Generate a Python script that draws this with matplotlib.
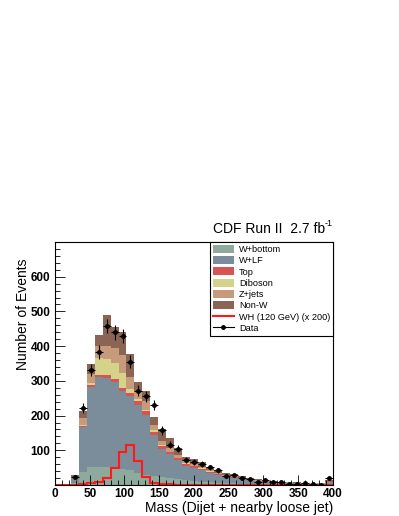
import numpy as np
import matplotlib
matplotlib.use("Agg")
import matplotlib.pyplot as plt
from matplotlib.patches import Patch
from matplotlib.lines import Line2D

plt.rcParams['font.family'] = ['Liberation Sans', 'DejaVu Sans']

# 35 bins from 0 to 400 GeV
edges = np.linspace(0, 400, 36)

# background templates (events per bin)
w_bottom = [0, 0, 5, 38, 52, 53, 53, 51, 46, 42, 35, 30, 26, 23, 19, 16, 14, 12,
            10, 9, 7, 6, 5, 4, 4, 3, 3, 2, 2, 2, 1, 1, 1, 1, 2]
w_lf = [0, 0, 15, 130, 231, 257, 254, 245, 225, 213, 195, 172, 119, 82, 69, 56, 42, 38,
        34, 27, 23, 18, 16, 13, 10, 8, 6.5, 6, 5, 4, 4.5, 4, 3, 2.5, 8]
top = [0, 0, 0.3, 3, 6, 7, 9, 8, 9, 10, 11, 10, 9, 7, 6, 5, 4, 3.5,
       3, 2.5, 2, 2, 1.5, 1.2, 1, 0.8, 0.7, 0.6, 0.5, 0.5, 0.4, 0.4, 0.3, 0.3, 0.6]
diboson = [0, 0, 0.5, 3, 6, 48, 48, 48, 42, 12, 6, 4, 3.5, 3, 2.5, 2, 2, 1.5,
           1.2, 1, 1, 0.8, 0.7, 0.6, 0.5, 0.5, 0.4, 0.4, 0.3, 0.3, 0.3, 0.2, 0.2, 0.2, 0.4]
zjets = [0, 0, 1, 20, 26, 36, 36, 43, 53, 35, 25, 25, 15, 12, 10, 8, 6, 5,
         4, 3.5, 3, 2.5, 2, 1.7, 1.5, 1.2, 1, 1, 0.8, 0.7, 0.6, 0.5, 0.5, 0.4, 1.2]
non_w = [0, 0, 6.2, 19, 27, 31, 89, 61, 66, 66, 26, 29, 22.5, 33, 28.5, 19, 12, 14,
         13.8, 10, 8, 5.7, 6.8, 4.5, 3, 2.5, 2.4, 2, 1.4, 1.5, 1.2, 0.9, 1, 0.6, 2.8]

# signal WH (120 GeV) scaled x200
wh = [0, 0, 0.5, 2, 5, 9, 21, 50, 96, 115, 70, 22, 7, 2, 1.5, 1, 1, 0.5,
      0.4, 0.3, 0.2, 0.2, 0.1, 0.1, 0, 0, 0, 0, 0, 0, 0, 0, 0, 0, 0]

data = [0, 0, 24, 221, 331, 383, 458, 440, 430, 355, 272, 255, 231, 157, 116, 104, 73, 67,
        61, 51, 42, 25, 29, 20, 17, 8, 13, 8, 8, 4, 3, 6, 3, 1, 21]

labels = ["W+bottom", "W+LF", "Top", "Diboson", "Z+jets", "Non-W"]
colors = ["#8daa9c", "#7b8d9b", "#d95450", "#d5d38a", "#c89a7c", "#8b6553"]

fig = plt.figure(figsize=(3.99, 5.16), dpi=100)
ax = fig.add_axes([55/399, 31/516, 278/399, 243/516])

base = np.zeros(len(edges) - 1)
for vals, col in zip([w_bottom, w_lf, top, diboson, zjets, non_w], colors):
    vals = np.array(vals, dtype=float)
    ax.stairs(base + vals, edges, baseline=base.copy(), fill=True, color=col, lw=0)
    base = base + vals

ax.stairs(wh, edges, color="#ff1a1a", lw=1.5, baseline=None)

centers = 0.5 * (edges[:-1] + edges[1:])
d = np.array(data, dtype=float)
mask = d > 0
ax.errorbar(centers[mask], d[mask], yerr=np.sqrt(d[mask]), xerr=(edges[1] - edges[0]) / 2,
            fmt="o", ms=2.5, color="black", lw=0.8, capsize=0)

ax.set_xlim(0, 400)
ax.set_ylim(0, 700)
ax.set_xticks(np.arange(0, 401, 50))
ax.set_xticks(np.arange(0, 401, 10), minor=True)
ax.set_yticks(np.arange(100, 601, 100))
ax.set_yticks(np.arange(0, 701, 20), minor=True)
ax.tick_params(which="both", direction="in", top=False, right=False, width=0.6,
               labelsize=8.5)
ax.tick_params(axis="x", which="major", pad=2.5)
ax.tick_params(which="major", length=7)
ax.tick_params(which="minor", length=3.5)
for lab in ax.get_xticklabels() + ax.get_yticklabels():
    lab.set_fontweight("bold")
for sp in ax.spines.values():
    sp.set_linewidth(0.8)

fig.text(333/399, (516-508)/516, "Mass (Dijet + nearby loose jet)", ha="right", va="center",
         fontsize=10)
fig.text(23/399, (516-314)/516, "Number of Events", rotation=90, ha="center", va="center",
         fontsize=10)
fig.text(325/399, (516-229)/516, "CDF Run II  2.7 fb", ha="right", va="center",
         fontsize=10)
fig.text(325/399, (516-224)/516, "-1", ha="left", va="center", fontsize=6.5)

handles = [Patch(facecolor=c, edgecolor="none") for c in colors]
handles += [Line2D([], [], color="#ff1a1a", lw=1.5),
            Line2D([], [], color="black", lw=0.8, marker="o", ms=2.5)]
leg = ax.legend(handles, labels + ["WH (120 GeV) (x 200)", "Data"], loc="upper right",
                bbox_to_anchor=(1, 1), frameon=True, fancybox=False, edgecolor="black",
                framealpha=1, fontsize=6.6, borderaxespad=0, handlelength=2.3,
                handleheight=1.0, labelspacing=0.22, borderpad=0.3, handletextpad=0.55)
leg.get_frame().set_linewidth(0.8)

fig.savefig("out.png", dpi=100)
